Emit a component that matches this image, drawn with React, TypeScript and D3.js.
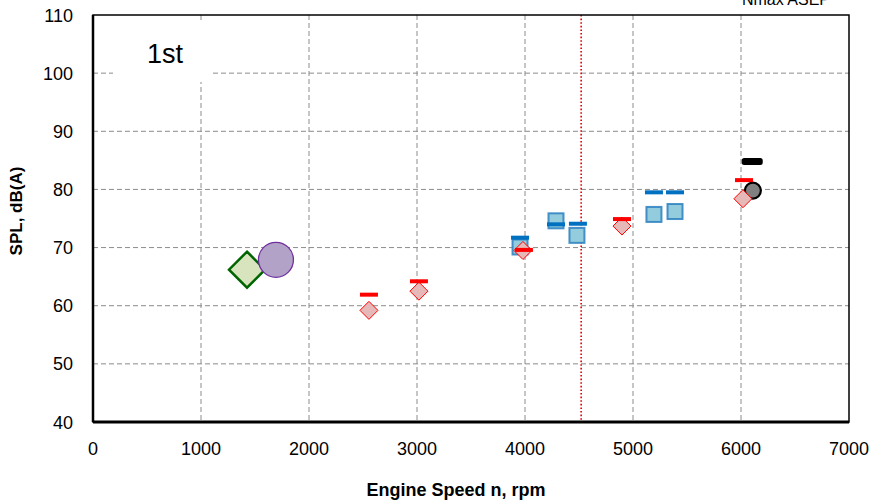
import * as d3 from 'd3'

const W = 874
const H = 501
const M = { left: 93, right: 25, top: 15, bottom: 79 }

const X_TICKS = [0, 1000, 2000, 3000, 4000, 5000, 6000, 7000]
const Y_TICKS = [40, 50, 60, 70, 80, 90, 100, 110]

// red: limit bars and measured diamonds
const RED_BAR_X = [2555, 3018, 3990, 4898, 6028]
const RED_BAR_Y = [61.9, 64.2, 69.6, 74.9, 81.6]
const RED_PT_X = [2555, 3018, 3981, 4898, 6018]
const RED_PT_Y = [59.2, 62.5, 69.5, 73.7, 78.4]

// blue: limit bars and measured squares
const BLUE_BAR_X = [3954, 4287, 4490, 5194, 5389]
const BLUE_BAR_Y = [71.7, 74.0, 74.1, 79.5, 79.5]
const BLUE_PT_X = [3954, 4287, 4481, 5194, 5389]
const BLUE_PT_Y = [70.1, 74.6, 72.1, 75.7, 76.2]

// single markers
const GREEN_PT = [1426, 66.2]
const PURPLE_PT = [1694, 67.9]
const GRAY_PT = [6110, 79.8]
const BLACK_BAR = [6104, 84.8]

const NMAX_ASEP = 4520

const FONT = 'Liberation Sans, Arial, sans-serif'

export default function App() {
  const x = d3.scaleLinear([0, 7000], [M.left, W - M.right])
  const y = d3.scaleLinear([40, 110], [H - M.bottom, M.top])
  const x0 = x(0)
  const x1 = x(7000)
  const y0 = y(40)
  const y1 = y(110)
  const diamond = (cx: number, cy: number, r: number) =>
    `M${cx},${cy - r}L${cx + r},${cy}L${cx},${cy + r}L${cx - r},${cy}Z`

  return (
    <svg
      width={W}
      height={H}
      style={{ position: 'absolute', left: 0, top: 0, background: '#fff' }}
      fontFamily={FONT}
    >
      {/* grid */}
      <g stroke="#8c8c8c" strokeWidth={1} strokeDasharray="5,3">
        {Y_TICKS.slice(1, -1).map((t) => (
          <line key={'gy' + t} x1={x0} x2={x1} y1={y(t)} y2={y(t)} />
        ))}
        {X_TICKS.slice(1, -1).map((t) => (
          <line key={'gx' + t} x1={x(t)} x2={x(t)} y1={y1} y2={y0} />
        ))}
      </g>

      {/* label box "1st" */}
      <rect x={113} y={23} width={100} height={59} fill="#fff" />
      <text x={165} y={63} fontSize={27} textAnchor="middle" fill="#000">
        1st
      </text>

      {/* Nmax ASEP */}
      <line
        x1={x(NMAX_ASEP)}
        x2={x(NMAX_ASEP)}
        y1={y1}
        y2={y0}
        stroke="#e00000"
        strokeWidth={1.6}
        strokeDasharray="1.6,2"
      />
      <text x={830} y={5} fontSize={16} textAnchor="end" fill="#000">
        Nmax ASEP
      </text>

      {/* large markers */}
      <path
        d={diamond(x(GREEN_PT[0]), y(GREEN_PT[1]), 18)}
        fill="#d7e4bd"
        stroke="#006400"
        strokeWidth={2.5}
      />
      <circle
        cx={x(PURPLE_PT[0])}
        cy={y(PURPLE_PT[1])}
        r={17.5}
        fill="#b2a2c7"
        stroke="#7030a0"
        strokeWidth={1.3}
      />

      {/* blue squares and bars */}
      {BLUE_PT_X.map((v, i) => (
        <rect
          key={'bs' + i}
          x={x(v) - 7.5}
          y={y(BLUE_PT_Y[i]) - 7.5}
          width={15}
          height={15}
          fill="#93cddd"
          stroke="#2a7fc0"
          strokeWidth={2}
          strokeOpacity={0.85}
        />
      ))}
      {BLUE_BAR_X.map((v, i) => (
        <rect
          key={'bb' + i}
          x={x(v) - 9}
          y={y(BLUE_BAR_Y[i]) - 2}
          width={18}
          height={4}
          fill="#0070c0"
        />
      ))}

      {/* gray circle and black bar */}
      <circle
        cx={x(GRAY_PT[0])}
        cy={y(GRAY_PT[1])}
        r={8}
        fill="#808080"
        stroke="#000"
        strokeWidth={2.2}
      />
      <rect
        x={x(BLACK_BAR[0]) - 10.5}
        y={y(BLACK_BAR[1]) - 3.5}
        width={21}
        height={7}
        rx={2.5}
        fill="#000"
      />

      {/* red diamonds and bars */}
      {RED_PT_X.map((v, i) => (
        <path
          key={'rd' + i}
          d={diamond(x(v), y(RED_PT_Y[i]), 9)}
          fill="#e6b9b8"
          stroke="#ff0000"
          strokeWidth={1}
        />
      ))}
      {RED_BAR_X.map((v, i) => (
        <rect
          key={'rb' + i}
          x={x(v) - 9}
          y={y(RED_BAR_Y[i]) - 2}
          width={18}
          height={4}
          fill="#ff0000"
        />
      ))}

      {/* frame */}
      <rect x={x0} y={y1} width={x1 - x0} height={y0 - y1} fill="none" stroke="#000" strokeWidth={1.5} />
      <line x1={x0} x2={x1} y1={y0} y2={y0} stroke="#000" strokeWidth={3} />
      <line x1={x0} x2={x0} y1={y1} y2={y0} stroke="#000" strokeWidth={2.5} />

      {/* tick labels */}
      {Y_TICKS.map((t) => (
        <text key={'ty' + t} x={73} y={y(t) + 6.5} fontSize={18} textAnchor="end" fill="#000">
          {t}
        </text>
      ))}
      {X_TICKS.map((t) => (
        <text key={'tx' + t} x={x(t)} y={455} fontSize={18} textAnchor="middle" fill="#000">
          {t}
        </text>
      ))}

      {/* axis titles */}
      <text x={456} y={496} fontSize={18} fontWeight="bold" textAnchor="middle" fill="#000">
        Engine Speed n, rpm
      </text>
      <text
        transform="translate(22,211) rotate(-90)"
        fontSize={17}
        fontWeight="bold"
        textAnchor="middle"
        fill="#000"
      >
        SPL, dB(A)
      </text>
    </svg>
  )
}
